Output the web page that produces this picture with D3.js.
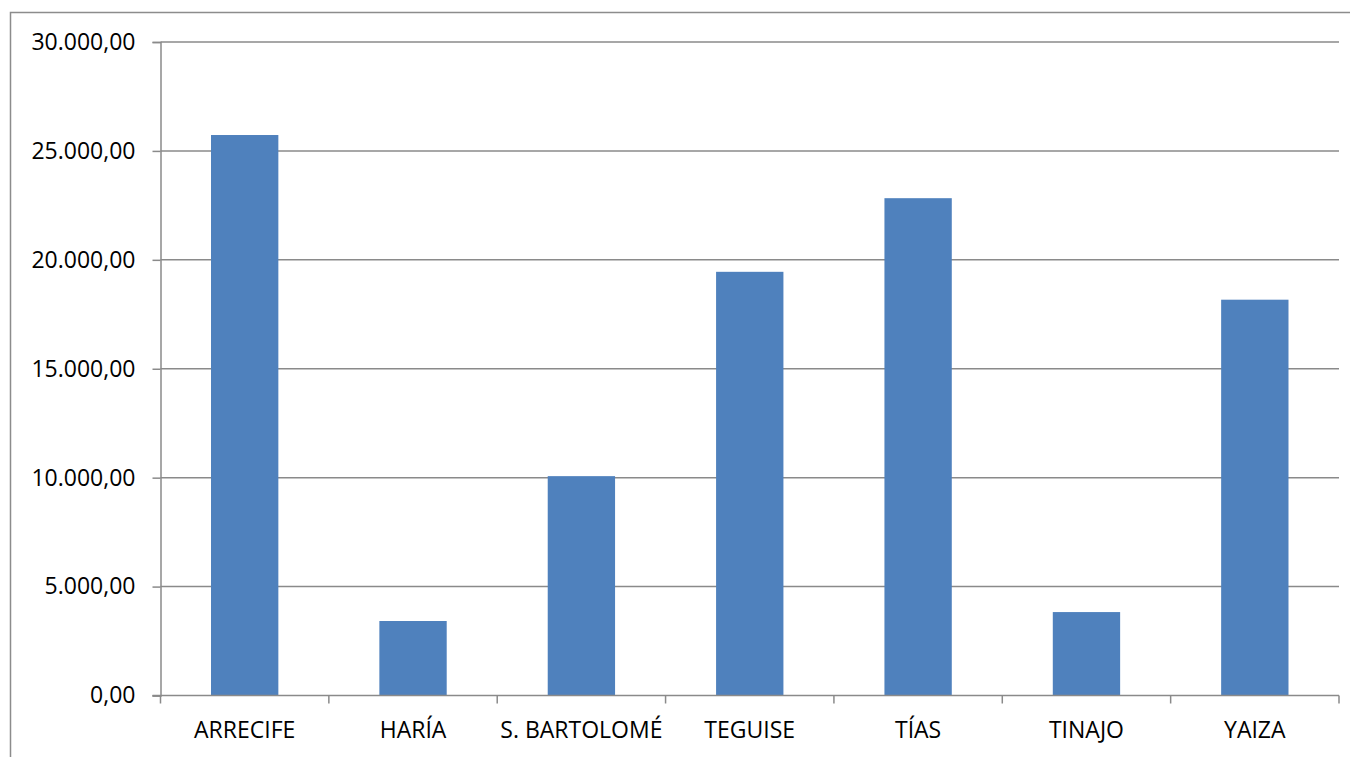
<!DOCTYPE html>
<html>
<head>
<meta charset="utf-8">
<script src="https://cdn.jsdelivr.net/npm/d3@7"></script>
<style>
  html, body { margin: 0; padding: 0; background: #fff; }
  svg { display: block; }
  text { font-family: "Open Sans", "Noto Sans", sans-serif; fill: #000; }
</style>
</head>
<body>
<svg id="chart" width="1350" height="757"></svg>
<script>
const categories = ["ARRECIFE", "HARÍA", "S. BARTOLOMÉ", "TEGUISE", "TÍAS", "TINAJO", "YAIZA"];
const values = [25730, 3420, 10070, 19450, 22830, 3830, 18170];
const yTicks = [0, 5000, 10000, 15000, 20000, 25000, 30000];

(function () {
const svg = d3.select("#chart");
const W = 1350, H = 757;
const pLeft = 160.5, pRight = 1339, pTop = 42, pBottom = 695.5;

// outer chart frame
svg.append("rect")
  .attr("x", 10.5).attr("y", 12.5)
  .attr("width", W).attr("height", H)
  .attr("fill", "none").attr("stroke", "#8c8c8c").attr("stroke-width", 1.5);

const x = d3.scaleBand().domain(categories).range([pLeft, pRight]).paddingInner(0.6).paddingOuter(0.3);
const xOuter = d3.scaleBand().domain(categories).range([pLeft, pRight]).padding(0);
const y = d3.scaleLinear().domain([0, 30000]).range([pBottom, pTop]);

const fmt = v => {
  const s = d3.format(",.2f")(v);
  return s.replace(/,/g, "#").replace(/\./g, ",").replace(/#/g, ".");
};

// gridlines
svg.append("g").selectAll("line").data(yTicks.filter(t => t > 0)).join("line")
  .attr("x1", pLeft).attr("x2", pRight)
  .attr("y1", d => y(d)).attr("y2", d => y(d))
  .attr("stroke", "#8a8a8a").attr("stroke-width", 1.5);

// bars
svg.append("g").selectAll("rect").data(values).join("rect")
  .attr("x", (d, i) => x(categories[i]))
  .attr("y", d => y(d))
  .attr("width", x.bandwidth())
  .attr("height", d => pBottom - y(d))
  .attr("fill", "#4f81bd");

// y axis
const yAxis = d3.axisLeft(y).tickValues(yTicks).tickSize(8).tickPadding(17).tickFormat(fmt);
const gy = svg.append("g").attr("transform", `translate(${pLeft},0)`).call(yAxis);
gy.select(".domain").attr("stroke", "#8a8a8a").attr("stroke-width", 1.5);
gy.selectAll(".tick line").attr("stroke", "#8a8a8a").attr("stroke-width", 1.5);
gy.selectAll(".tick text").attr("font-size", 23).attr("font-family", "Open Sans").attr("fill", "#000");

// x axis
const boundaries = categories.map(c => xOuter(c)).concat([pRight]);
svg.append("line").attr("x1", pLeft - 8).attr("x2", pRight)
  .attr("y1", pBottom).attr("y2", pBottom)
  .attr("stroke", "#8a8a8a").attr("stroke-width", 1.5);
svg.append("g").selectAll("line").data(boundaries).join("line")
  .attr("x1", d => d).attr("x2", d => d)
  .attr("y1", pBottom).attr("y2", pBottom + 8)
  .attr("stroke", "#8a8a8a").attr("stroke-width", 1.5);
svg.append("g").selectAll("text").data(categories).join("text")
  .attr("x", d => xOuter(d) + xOuter.bandwidth() / 2)
  .attr("y", 738)
  .attr("text-anchor", "middle")
  .attr("font-size", 23)
  .text(d => d);
})();
</script>
</body>
</html>
